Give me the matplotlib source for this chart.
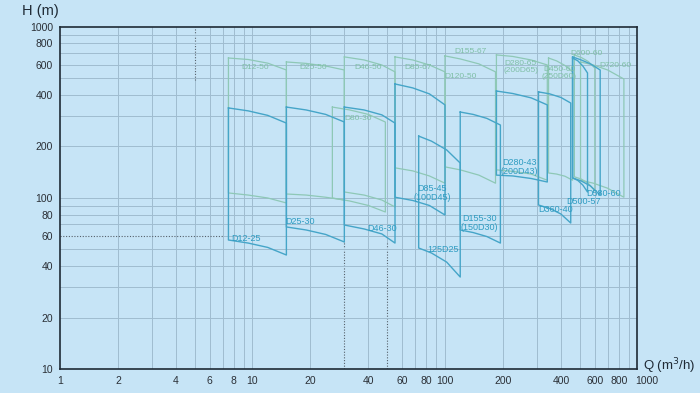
import numpy as np
import matplotlib
matplotlib.use('Agg')
import matplotlib.pyplot as plt
import matplotlib.transforms as mtransforms
from matplotlib.ticker import FixedLocator, NullLocator, FixedFormatter

## -- pump selection tiles: flow points (m3/h), head on max-stage curve and min-stage curve (m)
dark_q = [
	[7.5, 9.5, 12, 15],
	[15, 19, 24, 30],
	[30, 38, 47, 55],
	[55, 68, 83, 100],
	[73, 85, 102, 120],
	[120, 140, 165, 194],
	[185, 225, 280, 340],
	[306, 350, 400, 450],
	[460, 490, 520, 550],
	[460, 510, 570, 640],
]
dark_top = [
	[336, 323, 304, 274],
	[340, 327, 308, 278],
	[340, 327, 306, 274],
	[464, 440, 406, 350],
	[230, 215, 191, 160],
	[318, 308, 292, 267],
	[422, 408, 385, 350],
	[417, 406, 387, 359],
	[658, 633, 591, 538],
	[668, 641, 608, 560],
]
dark_bot = [
	[56.8, 54.5, 51.4, 46.4],
	[67.7, 65, 61.2, 55.3],
	[69.5, 65.9, 61.6, 54.5],
	[101, 96.7, 90.4, 79.5],
	[51, 47.7, 42.2, 34.5],
	[65, 62.8, 59.5, 54.5],
	[136, 134.5, 130, 124],
	[91, 86.8, 80.6, 71.4],
	[131, 126.6, 119, 108.4],
	[131, 125.8, 117.5, 104],
]

green_q = [
	[7.5, 9.5, 12, 15],
	[15, 19, 24, 30],
	[30, 38, 47, 55],
	[26, 32, 40, 49],
	[55, 68, 83, 100],
	[100, 120, 150, 183],
	[185, 225, 280, 340],
	[345, 380, 420, 460],
	[470, 510, 555, 600],
	[506, 590, 700, 850],
]
green_top = [
	[658, 645, 614, 560],
	[624, 612, 591, 560],
	[668, 641, 599, 546],
	[340, 327, 308, 278],
	[668, 641, 599, 546],
	[677, 650, 608, 546],
	[686, 672, 641, 599],
	[658, 633, 595, 546],
	[686, 663, 628, 575],
	[624, 599, 560, 496],
]
green_bot = [
	[107, 104, 100, 93.5],
	[105.5, 104, 101, 97.3],
	[108.4, 104, 97.3, 88.6],
	[100, 96, 90.4, 82.8],
	[150, 144, 134.5, 122],
	[152, 146, 136, 122],
	[146, 143, 138, 127],
	[140, 138, 134, 127],
	[133, 129, 122, 110],
	[127, 122, 114, 101],
]

dark_labels = ["D12-25", "D25-30", "D46-30", "D85-45\n(100D45)", "125D25", "D155-30\n(150D30)",
	"D280-43\n(200D43)", "D360-40", "D500-57", "D580-60"]
dark_label_q = [9.3, 17.7, 47.3, 86, 98, 151, 244, 375, 524, 666]
dark_label_h = [57.6, 72.4, 65.9, 107, 50.3, 71, 151, 86.2, 96, 105.5]

green_labels = ["D12-50", "D25-50", "D46-50", "D80-30", "D85-67", "D120-50", "D155-67",
	"D280-65\n(200D65)", "D450-60\n(250D60)", "D600-60", "D720-60"]
green_label_q = [10.3, 20.7, 40, 35.5, 72.7, 120, 135.5, 247, 393, 544, 769]
green_label_h = [583, 576, 576, 290, 583, 510, 714, 584, 535, 695, 591]

x_ticks = [1, 2, 4, 6, 8, 10, 20, 40, 60, 80, 100, 200, 400, 600, 800, 1000]
y_ticks = [10, 20, 40, 60, 80, 100, 200, 400, 600, 800, 1000]

bg = "#c6e4f6"
grid_c = "#9fbccf"
dark_c = "#45a5c8"
green_c = "#8ec8b6"
dark_txt = "#2e9cc2"
green_txt = "#7fbfa6"
dot_c = "#55606a"

plt.rcParams['font.family'] = ['Liberation Sans', 'DejaVu Sans']
fig = plt.figure(figsize=(7, 3.93), dpi=100)
fig.patch.set_facecolor(bg)
ax = fig.add_axes([0.0857, 0.061, 0.825, 0.8705])
ax.set_facecolor(bg)
ax.set_xscale('log')
ax.set_yscale('log')
ax.set_xlim(1, 1000)
ax.set_ylim(10, 1000)

## grid, drawn by hand so a few segments can be dotted
for dec in [1, 10, 100]:
	for m in range(2, 10):
		q = dec * m
		if q == 30:
			ax.plot([q, q], [55.3, 1000], color=grid_c, lw=0.7, zorder=1)
			ax.plot([q, q], [10, 55.3], color=dot_c, lw=0.8, ls=(0, (1, 1.5)), zorder=1)
		elif q == 50:
			ax.plot([q, q], [55, 1000], color=grid_c, lw=0.7, zorder=1)
			ax.plot([q, q], [10, 55], color=dot_c, lw=0.8, ls=(0, (1, 1.5)), zorder=1)
		elif q == 5:
			ax.plot([q, q], [10, 490], color=grid_c, lw=0.7, zorder=1)
			ax.plot([q, q], [490, 1000], color=dot_c, lw=0.8, ls=(0, (1, 1.5)), zorder=1)
		else:
			ax.axvline(q, color=grid_c, lw=0.7, zorder=1)
ax.axvline(10, color=grid_c, lw=0.7, zorder=1)
ax.axvline(100, color=grid_c, lw=0.7, zorder=1)
for dec in [10, 100]:
	for m in range(1, 10):
		h = dec * m
		if h == 10:
			continue
		if h == 60:
			ax.plot([7, 1000], [h, h], color=grid_c, lw=0.7, zorder=1)
			ax.plot([1, 7], [h, h], color=dot_c, lw=0.8, ls=(0, (1, 1.5)), zorder=1)
		else:
			ax.axhline(h, color=grid_c, lw=0.7, zorder=1)

## tiles
for i in range(len(green_q)):
	qs = green_q[i] + green_q[i][::-1] + [green_q[i][0]]
	hs = green_top[i] + green_bot[i][::-1] + [green_top[i][0]]
	ax.plot(qs, hs, color=green_c, lw=0.9, zorder=2)
for i in range(len(dark_q)):
	qs = dark_q[i] + dark_q[i][::-1] + [dark_q[i][0]]
	hs = dark_top[i] + dark_bot[i][::-1] + [dark_top[i][0]]
	ax.plot(qs, hs, color=dark_c, lw=1.0, zorder=3)

for i in range(len(green_labels)):
	ax.text(green_label_q[i], green_label_h[i], green_labels[i], color=green_txt, fontsize=6,
		ha='center', va='center', linespacing=1.0, zorder=4)
for i in range(len(dark_labels)):
	ax.text(dark_label_q[i], dark_label_h[i], dark_labels[i], color=dark_txt, fontsize=6.5,
		ha='center', va='center', linespacing=1.0, zorder=4)

## ticks
ax.xaxis.set_major_locator(FixedLocator(x_ticks))
ax.xaxis.set_major_formatter(FixedFormatter([str(t) for t in x_ticks]))
ax.xaxis.set_minor_locator(NullLocator())
ax.yaxis.set_major_locator(FixedLocator(y_ticks))
ax.yaxis.set_major_formatter(FixedFormatter([str(t) for t in y_ticks]))
ax.yaxis.set_minor_locator(NullLocator())
ax.tick_params(length=0, labelsize=7.5, colors="#2a2f36", pad=5)
for s in ax.spines.values():
	s.set_color("#1f2a35")
	s.set_linewidth(1.2)

# last x label sits a little right of the spine, as in the original sheet
last = ax.xaxis.get_major_ticks()[-1].label1
last.set_transform(last.get_transform() + mtransforms.ScaledTranslation(7 / 72, 0, fig.dpi_scale_trans))

fig.text(0.057, 0.972, "H (m)", fontsize=10.5, color="#1f2a35", ha='center', va='center')
fig.text(0.918, 0.068, "Q (m$^3$/h)", fontsize=9.5, color="#1f2a35", ha='left', va='center')

plt.savefig("out.png", dpi=100, facecolor=bg)
